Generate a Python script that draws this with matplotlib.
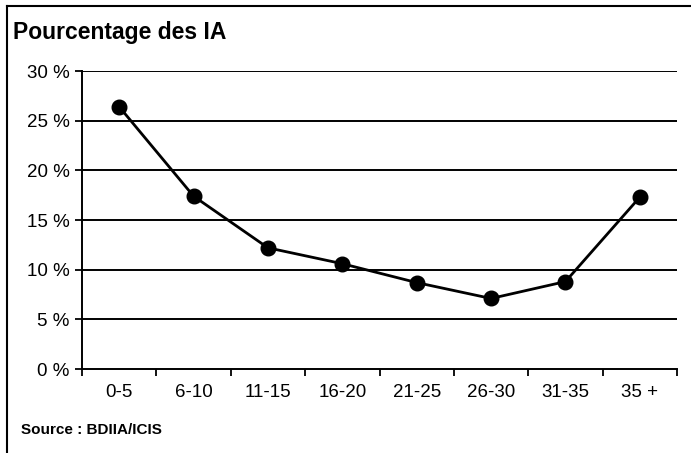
import numpy as np
import matplotlib as mpl

## agg backend, no display here
mpl.use('agg')

import matplotlib.pyplot as plt
from matplotlib.lines import Line2D

plt.rcParams['font.family'] = ['Liberation Sans', 'DejaVu Sans']

# age groups and share of IA (%)
categories = ['0-5', '6-10', '11-15', '16-20', '21-25', '26-30', '31-35', '35 +']
pourcentage = [26.4, 17.4, 12.2, 10.6, 8.7, 7.1, 8.8, 17.3]
y_ticks = [0, 5, 10, 15, 20, 25, 30]
y_labels = ['%d %%' % v for v in y_ticks]

W, H = 691, 453
fig = plt.figure(figsize=(W / 100, H / 100), dpi=100)
ax = fig.add_axes([82 / W, 1 - 369 / H, (677 - 82) / W, (369 - 71) / H])

x = np.arange(len(categories))

# gridlines
for v in y_ticks[1:]:
    ax.axhline(v, color='black', lw=1.4, zorder=1)

ax.plot(x, pourcentage, color='black', lw=2, marker='o', markersize=10.5,
        markerfacecolor='black', zorder=3, clip_on=False)

ax.set_xlim(-0.5, len(categories) - 0.5)
ax.set_ylim(0, 30)

ax.set_yticks(y_ticks)
ax.set_yticklabels(y_labels, fontsize=13.5)
ax.tick_params(axis='y', direction='out', length=5, width=1.3, pad=4)

## labels centred on categories, tick marks between them
ax.set_xticks(x)
ax.set_xticklabels(categories, fontsize=13.5)
ax.set_xticks(np.arange(len(categories) + 1) - 0.5, minor=True)
ax.tick_params(axis='x', which='major', length=0, pad=11)
ax.tick_params(axis='x', which='minor', direction='out', length=5, width=1.3)

ax.spines['top'].set_visible(False)
ax.spines['right'].set_visible(False)
ax.spines['left'].set_linewidth(1.4)
ax.spines['bottom'].set_linewidth(1.4)

fig.text(13 / W, 1 - 33 / H, 'Pourcentage des IA', fontsize=16.5,
         fontweight='bold', va='center', ha='left')
fig.text(21 / W, 1 - 430 / H, 'Source : BDIIA/ICIS', fontsize=11,
         fontweight='bold', va='center', ha='left')

# frame round the chart (only top and left are visible in the scan)
fig.add_artist(Line2D([7 / W, 1], [1 - 6 / H, 1 - 6 / H], color='black', lw=1.5))
fig.add_artist(Line2D([7 / W, 7 / W], [0, 1 - 6 / H], color='black', lw=1.5))

fig.savefig('out.png', dpi=100)
